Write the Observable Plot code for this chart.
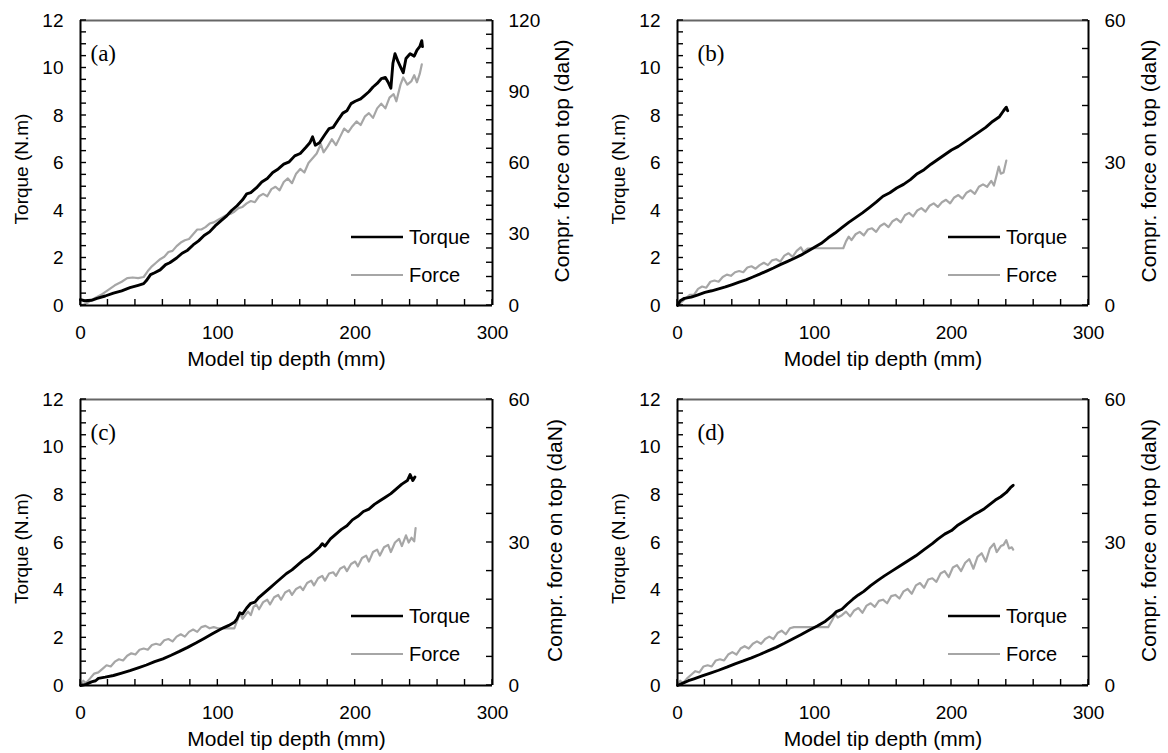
<!DOCTYPE html>
<html><head><meta charset="utf-8">
<script src="https://cdn.jsdelivr.net/npm/d3@7"></script>
<script src="https://cdn.jsdelivr.net/npm/@observablehq/plot@0.6"></script>
<style>
html,body{margin:0;padding:0;background:#fff;}
#wrap{position:relative;width:1168px;height:753px;overflow:hidden;background:#fff;}
.panel{position:absolute;}
</style></head><body><div id="wrap"></div>
<script>
// ---- tick values ----
const depthTicks = [0, 100, 200, 300];
const depthMinor = [0,20,40,60,80,100,120,140,160,180,200,220,240,260,280,300];
const torqueTicks = [0, 2, 4, 6, 8, 10, 12];
const torqueMinor = [0,0.5,1,1.5,2,2.5,3,3.5,4,4.5,5,5.5,6,6.5,7,7.5,8,8.5,9,9.5,10,10.5,11,11.5,12];
const forceTicksA = [0, 30, 60, 90, 120];
const forceMinorA = [0,6,12,18,24,30,36,42,48,54,60,66,72,78,84,90,96,102,108,114,120];
const forceTicksB = [0, 30, 60];
const forceMinorB = [0,6,12,18,24,30,36,42,48,54,60];
const panelLabels = ["(a)", "(b)", "(c)", "(d)"];
const seriesNames = ["Torque", "Force"];

// ---- series: [depth (mm), value] ; torque in N.m, force in daN ----
const torqueA = [[0,0.25],[3,0.2],[8,0.22],[12,0.3],[18,0.4],[24,0.52],[30,0.62],[36,0.75],[42,0.85],[46,0.92],[48,1.05],[51,1.3],[54,1.38],[58,1.5],[62,1.72],[65,1.8],[70,2.0],[74,2.2],[78,2.33],[82,2.55],[86,2.72],[90,2.95],[94,3.1],[98,3.35],[102,3.55],[106,3.75],[110,4.0],[114,4.2],[118,4.45],[121,4.7],[124,4.75],[128,4.95],[132,5.2],[136,5.35],[140,5.6],[144,5.75],[148,5.95],[152,6.05],[156,6.3],[160,6.4],[164,6.65],[167,6.85],[169,7.1],[171,6.75],[174,6.85],[178,7.2],[181,7.45],[184,7.5],[188,7.85],[191,8.1],[194,8.2],[197,8.5],[200,8.6],[204,8.7],[207,8.85],[210,9.0],[213,9.2],[216,9.35],[219,9.55],[222,9.6],[224,9.4],[226,9.15],[227.5,10.2],[229,10.6],[231,10.3],[233,10.05],[235,9.8],[237,10.4],[240,10.6],[243,10.5],[245,10.75],[247,10.9],[248.5,11.15],[249,10.9]];
const forceA = [[0,0],[3,0.5],[6,1.5],[10,3],[15,4.5],[20,6.5],[25,8.5],[30,10],[34,11.5],[38,11.8],[42,11.5],[46,12],[49,14.5],[52,16.5],[55,18],[58,19.5],[61,20.5],[64,22.5],[67,23],[70,25],[73,26.5],[76,27.5],[79,28],[82,30],[85,32],[88,32],[91,33],[94,34.5],[97,35],[100,36],[103,37],[106,38],[109,38.5],[112,39.5],[115,41],[118,41.5],[121,43],[124,44],[127,43.5],[130,46],[133,47],[136,46],[139,49],[142,50],[145,48.5],[148,52],[151,53.5],[154,51.5],[157,55.5],[160,57.5],[163,56],[166,60],[169,62],[172,64],[175,68],[177,64.5],[180,67],[183,70],[186,67.5],[189,71],[192,74.5],[195,73],[198,75.5],[201,77.5],[204,76],[207,79.5],[210,81],[213,79],[216,83],[219,85],[222,83],[225,87.5],[228,89],[230,86],[233,93],[235,96],[238,93],[241,94.5],[243,97],[245,94],[247,97.5],[248.5,101.5]];

const torqueB = [[0,0.0],[2,0.2],[5,0.3],[10,0.35],[15,0.45],[20,0.55],[25,0.62],[30,0.7],[35,0.78],[40,0.88],[45,0.98],[50,1.08],[55,1.2],[60,1.32],[65,1.45],[70,1.58],[75,1.72],[80,1.85],[85,1.98],[90,2.12],[95,2.28],[100,2.45],[105,2.62],[110,2.85],[115,3.05],[120,3.28],[125,3.5],[130,3.7],[135,3.9],[140,4.12],[145,4.35],[150,4.6],[155,4.75],[160,4.95],[165,5.1],[170,5.3],[175,5.55],[180,5.72],[185,5.95],[190,6.15],[195,6.35],[200,6.55],[205,6.7],[210,6.9],[215,7.1],[220,7.3],[225,7.5],[230,7.75],[235,7.95],[238,8.2],[240,8.35],[241,8.2]];
const forceB = [[0,0],[3,0.75],[6,1.5],[9,2.25],[12,2.25],[15,3.5],[18,4],[21,3.75],[24,5],[27,5.25],[30,5],[33,6],[36,6.5],[39,6.25],[42,7],[45,7.25],[48,7],[51,8],[54,8.25],[57,7.75],[60,8.5],[63,9],[66,8.5],[69,9.5],[72,9.75],[75,9.25],[78,10.5],[81,11],[84,10.25],[87,11.5],[90,12.25],[92,11.25],[95,12],[100,12.05],[110,12.05],[121,12.05],[123,13.5],[125,14.5],[127,13.75],[130,15],[133,15.5],[136,14.75],[139,16],[142,16.25],[145,15.5],[148,16.75],[151,17.25],[154,16.5],[157,17.75],[160,18.25],[163,17.5],[166,19],[169,19.5],[172,18.75],[175,20],[178,20.5],[181,19.75],[184,21],[187,21.5],[190,20.75],[193,21.75],[196,22.25],[199,21.5],[202,22.75],[205,23.25],[208,22.5],[211,23.75],[214,24.25],[217,23.5],[220,25],[223,25.5],[226,25],[229,26.25],[231,25.25],[233,27.5],[234.5,29.25],[236,27.75],[238,28],[240,30.5]];

const torqueC = [[0,0],[4,0.05],[8,0.15],[11,0.2],[13,0.3],[18,0.35],[24,0.42],[30,0.52],[36,0.62],[42,0.74],[48,0.86],[54,1.0],[60,1.12],[66,1.27],[72,1.43],[78,1.6],[84,1.78],[90,1.97],[96,2.17],[100,2.3],[104,2.42],[108,2.52],[112,2.65],[114,2.8],[116,3.05],[118,3.0],[121,3.25],[124,3.45],[127,3.5],[130,3.7],[134,3.9],[138,4.1],[142,4.3],[146,4.5],[150,4.7],[154,4.85],[158,5.05],[162,5.25],[166,5.4],[170,5.6],[174,5.8],[176,5.95],[178,5.85],[182,6.15],[186,6.35],[190,6.55],[194,6.7],[198,6.95],[202,7.1],[206,7.3],[210,7.4],[214,7.6],[218,7.75],[222,7.9],[226,8.05],[230,8.25],[234,8.45],[238,8.6],[240,8.85],[242,8.6],[243.5,8.75]];
const forceC = [[0,0],[2,1],[4,0.5],[7,1.5],[10,2.5],[13,2.75],[16,3.5],[19,4.25],[22,4],[25,5],[28,5.5],[31,5.25],[34,6.25],[37,6.75],[40,6.5],[43,7.5],[46,7.75],[49,7.5],[52,8.5],[55,8.75],[58,8.5],[61,9.5],[64,9.75],[67,9.25],[70,10.25],[73,10.75],[76,10.25],[79,11.25],[82,11.75],[85,11.25],[88,12.25],[91,12.5],[94,12],[97,12.25],[100,12],[112,12],[114,13.5],[116,15.25],[118,14],[120,14.75],[122,15.5],[124,14.75],[126,16.5],[128,17],[130,16],[133,17.5],[136,18],[138,17],[141,18.5],[144,19],[146,18],[149,19.5],[152,20],[154,19],[157,20.25],[160,20.75],[162,20],[165,21.5],[168,22],[170,21],[173,22.5],[176,23],[178,22],[181,23.5],[184,23.75],[186,23],[189,24.5],[192,25],[194,24],[197,25.5],[200,26],[202,25],[205,26.75],[208,27.25],[210,26],[213,28],[216,28.5],[218,27.25],[221,29],[224,29.5],[226,28],[229,30],[232,30.75],[234,29.25],[237,31.5],[239,30],[241,31],[243,30.25],[244,33]];

const torqueD = [[0,0],[4,0.1],[8,0.2],[12,0.28],[18,0.4],[24,0.52],[30,0.64],[36,0.77],[42,0.91],[48,1.03],[54,1.16],[60,1.3],[66,1.45],[72,1.6],[78,1.77],[84,1.95],[90,2.13],[96,2.32],[102,2.5],[108,2.7],[113,2.93],[116,3.1],[120,3.2],[124,3.42],[128,3.62],[132,3.8],[136,3.95],[141,4.19],[146,4.4],[151,4.6],[157,4.82],[162,5.0],[168,5.22],[174,5.44],[180,5.7],[186,5.95],[190,6.14],[195,6.35],[200,6.5],[204,6.7],[208,6.85],[212,7.0],[216,7.15],[220,7.28],[224,7.42],[228,7.6],[232,7.78],[236,7.92],[240,8.1],[243,8.3],[245,8.4]];
const forceD = [[0,0],[2,1],[4,0.5],[7,1.5],[10,2.25],[13,3],[16,2.75],[19,4],[22,4.25],[25,4],[28,5.25],[31,5.5],[34,5.25],[37,6.5],[40,7],[43,6.5],[46,7.75],[49,8.25],[52,7.75],[55,8.75],[58,9.25],[61,8.75],[64,9.75],[67,10.25],[70,9.75],[73,11],[76,11.5],[79,10.75],[82,12],[85,12.25],[110,12.25],[113,13.75],[115,15],[117,14.25],[120,14.75],[123,15.5],[126,14.5],[129,15.75],[132,16.25],[135,15.25],[138,16.75],[141,17.25],[144,16.5],[147,17.75],[150,18],[153,17.25],[156,18.75],[159,19],[162,18.25],[165,19.75],[168,20.25],[171,19.25],[174,21],[177,21.5],[180,20.5],[183,22.25],[186,22.5],[189,21.75],[192,23.5],[195,24],[198,22.75],[201,24.75],[204,25.25],[207,24],[210,25.75],[213,26.5],[216,24.5],[219,27],[222,27.75],[225,26],[228,28.75],[231,29.75],[233,28],[236,29.25],[238,29.5],[240,30.5],[242,28.75],[244,29],[245,28.5]];

const xTitle = "Model tip depth (mm)";
const yTitle = "Torque (N.m)";
const y2Title = "Compr. force on top (daN)";

const TORQUE_COLOR = "#000000";
const FORCE_COLOR = "#a6a6a6";
const FONT = "'Liberation Sans', Arial, sans-serif";

const panels = [
  {label: panelLabels[0], torque: torqueA, force: forceA, fMax: 120, fTicks: forceTicksA, fMinor: forceMinorA, left: 0,   top: 0,   w: 584, h: 376, ml: 80, mr: 92, mt: 20, mb: 71, ldx: 10, y2dx: 70},
  {label: panelLabels[1], torque: torqueB, force: forceB, fMax: 60,  fTicks: forceTicksB, fMinor: forceMinorB, left: 584, top: 0,   w: 584, h: 376, ml: 93, mr: 80, mt: 20, mb: 71, ldx: 20, y2dx: 61},
  {label: panelLabels[2], torque: torqueC, force: forceC, fMax: 60,  fTicks: forceTicksB, fMinor: forceMinorB, left: 0,   top: 376, w: 584, h: 377, ml: 80, mr: 92, mt: 23, mb: 68, ldx: 10, y2dx: 63},
  {label: panelLabels[3], torque: torqueD, force: forceD, fMax: 60,  fTicks: forceTicksB, fMinor: forceMinorB, left: 584, top: 376, w: 584, h: 377, ml: 93, mr: 80, mt: 23, mb: 68, ldx: 20, y2dx: 61}
];

// inward minor tick marks, positioned through the plot's own x / y scales
function innerTicks(xVals, yLeftVals, yRightVals, len) {
  return (index, scales, values, dims) => {
    const g = d3.create("svg:g").attr("stroke", "#000").attr("stroke-width", 1.4).attr("fill", "none");
    const yb = dims.height - dims.marginBottom;
    const xl = dims.marginLeft;
    const xr = dims.width - dims.marginRight;
    for (const v of xVals) {
      const x = scales.x(v);
      g.append("line").attr("x1", x).attr("x2", x).attr("y1", yb).attr("y2", yb - len);
    }
    for (const v of yLeftVals) {
      const y = scales.y(v);
      g.append("line").attr("x1", xl).attr("x2", xl + len).attr("y1", y).attr("y2", y);
    }
    for (const v of yRightVals) {
      const y = scales.y(v);
      g.append("line").attr("x1", xr - len).attr("x2", xr).attr("y1", y).attr("y2", y);
    }
    return g.node();
  };
}

function legendMark() {
  return (index, scales, values, dims) => {
    const g = d3.create("svg:g");
    const x0 = dims.marginLeft, y0 = dims.marginTop;
    const rows = [
      {name: seriesNames[0], color: TORQUE_COLOR, sw: 2.6, dy: 217},
      {name: seriesNames[1], color: FORCE_COLOR, sw: 2.2, dy: 255}
    ];
    for (const r of rows) {
      g.append("line").attr("x1", x0 + 271).attr("x2", x0 + 323)
        .attr("y1", y0 + r.dy).attr("y2", y0 + r.dy)
        .attr("stroke", r.color).attr("stroke-width", r.sw);
      g.append("text").attr("x", x0 + 329).attr("y", y0 + r.dy)
        .attr("dy", "0.35em").attr("font-size", 20).attr("font-family", FONT)
        .attr("text-anchor", "start")
        .attr("fill", "#000").text(r.name);
    }
    return g.node();
  };
}

const wrap = document.getElementById("wrap");
for (const p of panels) {
  const k = 12 / p.fMax;
  const chart = Plot.plot({
    width: p.w, height: p.h,
    marginLeft: p.ml, marginRight: p.mr, marginTop: p.mt, marginBottom: p.mb,
    style: {fontFamily: FONT, fontSize: "19px", color: "#000", background: "transparent", overflow: "visible"},
    x: {domain: [0, 300]},
    y: {domain: [0, 12]},
    marks: [
      Plot.line(p.force, {x: d => d[0], y: d => d[1] * k, stroke: FORCE_COLOR, strokeWidth: 2.2, strokeLinejoin: "round"}),
      Plot.line(p.torque, {x: d => d[0], y: d => d[1], stroke: TORQUE_COLOR, strokeWidth: 2.9, strokeLinejoin: "round"}),
      // tick labels
      Plot.axisX(depthTicks, {tickSize: 0, tickPadding: 20, label: null, fontSize: 19}),
      Plot.axisY(torqueTicks, {anchor: "left", tickSize: 0, tickPadding: 17, label: null, fontSize: 19}),
      Plot.axisY(p.fTicks.map(v => v * k), {anchor: "right", tickSize: 0, tickPadding: 16, label: null, fontSize: 19, tickFormat: v => String(Math.round(v / k))}),
      // frame
      Plot.ruleY([12], {stroke: "#666", strokeWidth: 2}),
      Plot.ruleX([0], {stroke: "#000", strokeWidth: 2}),
      Plot.ruleX([300], {stroke: "#000", strokeWidth: 2}),
      Plot.ruleY([0], {stroke: "#000", strokeWidth: 2}),
      innerTicks(depthMinor, torqueMinor, p.fMinor.map(v => v * k), 6),
      // titles
      Plot.text([xTitle], {text: d => d, frameAnchor: "bottom", dy: 54, lineAnchor: "middle", textAnchor: "middle", fontSize: 21, fill: "#000"}),
      Plot.text([yTitle], {text: d => d, frameAnchor: "left", dx: -59, dy: 6, rotate: -90, lineAnchor: "middle", textAnchor: "middle", fontSize: 19, fill: "#000"}),
      Plot.text([y2Title], {text: d => d, frameAnchor: "right", dx: p.y2dx, dy: -2, rotate: -90, lineAnchor: "middle", textAnchor: "middle", fontSize: 21, fill: "#000"}),
      Plot.text([p.label], {text: d => d, frameAnchor: "top-left", dx: p.ldx, dy: 33, lineAnchor: "middle", textAnchor: "start", fontSize: 23, fontFamily: "'Liberation Serif', 'Times New Roman', serif", fill: "#000"}),
      legendMark()
    ]
  });
  chart.classList.add("panel");
  chart.style.left = p.left + "px";
  chart.style.top = p.top + "px";
  wrap.appendChild(chart);
}
</script>
</body></html>
